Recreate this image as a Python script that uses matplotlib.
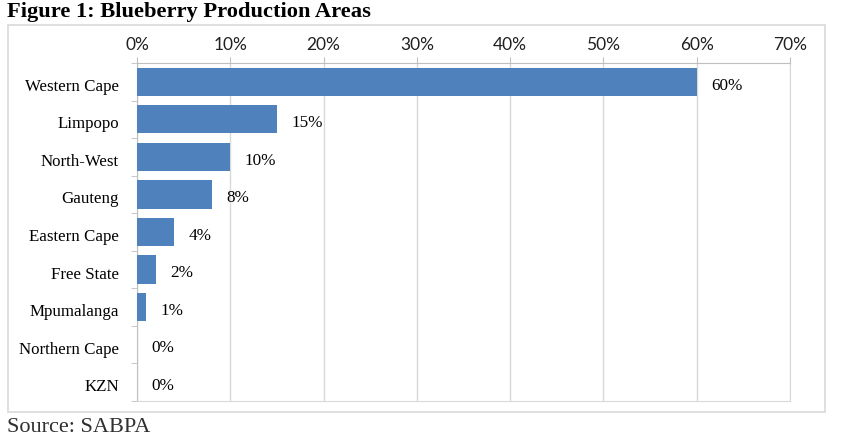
import matplotlib.pyplot as plt
import numpy as np
from matplotlib.patches import Rectangle

# data
regions = ['Western Cape', 'Limpopo', 'North-West', 'Gauteng', 'Eastern Cape',
           'Free State', 'Mpumalanga', 'Northern Cape', 'KZN']
share = [60, 15, 10, 8, 4, 2, 1, 0, 0]
xticks = [0, 10, 20, 30, 40, 50, 60, 70]

W, H = 844, 443
fig = plt.figure(figsize=(W/100, H/100), dpi=100)

serif = 'Liberation Serif'
sans = 'Lato'

# outer frame around the chart
fig.patches.append(Rectangle((8/W, 1-412/H), 817/W, 387/H, transform=fig.transFigure,
                             fill=False, edgecolor='#D9D9D9', linewidth=1.2))

ax = fig.add_axes([137/W, 1-401/H, 653/W, 338/H])
y = np.arange(len(regions))
ax.barh(y, share, height=0.75, color='#4F81BD', zorder=3)
for yi, v in zip(y, share):
    ax.text(v + 1.55, yi + 0.1, f'{v}%', va='center', ha='left', fontsize=12.3,
            family=serif, color='#000000')

ax.set_xlim(0, 70)
ax.set_ylim(len(regions) - 0.5, -0.5)
ax.set_xticks(xticks)
ax.set_xticklabels([f'{t}%' for t in xticks], family=sans, fontsize=12.5, color='#202020')
ax.xaxis.tick_top()
ax.tick_params(axis='x', length=4, color='#BFBFBF', pad=3)
ax.set_yticks(y + 0.08)
ax.set_yticklabels(regions, family=serif, fontsize=12.2)
ax.set_yticks(np.arange(len(regions) + 1) - 0.5, minor=True)
ax.tick_params(axis='y', which='major', length=0, pad=13)
ax.tick_params(axis='y', which='minor', length=4, color='#BFBFBF')
ax.grid(axis='x', color='#D9D9D9', linewidth=1, zorder=0)
for s in ax.spines.values():
    s.set_color('#D9D9D9')
ax.spines['left'].set_color('#BFBFBF')
ax.spines['top'].set_color('#BFBFBF')

fig.text(7/W, 1-12/H, 'Figure 1: Blueberry Production Areas', family=serif,
         fontweight='bold', fontsize=16.2, va='center', ha='left')
fig.text(7/W, 1-427/H, 'Source: SABPA', family=serif, fontsize=16,
         va='center', ha='left', color='#303030')

fig.savefig('out.png', dpi=100)
